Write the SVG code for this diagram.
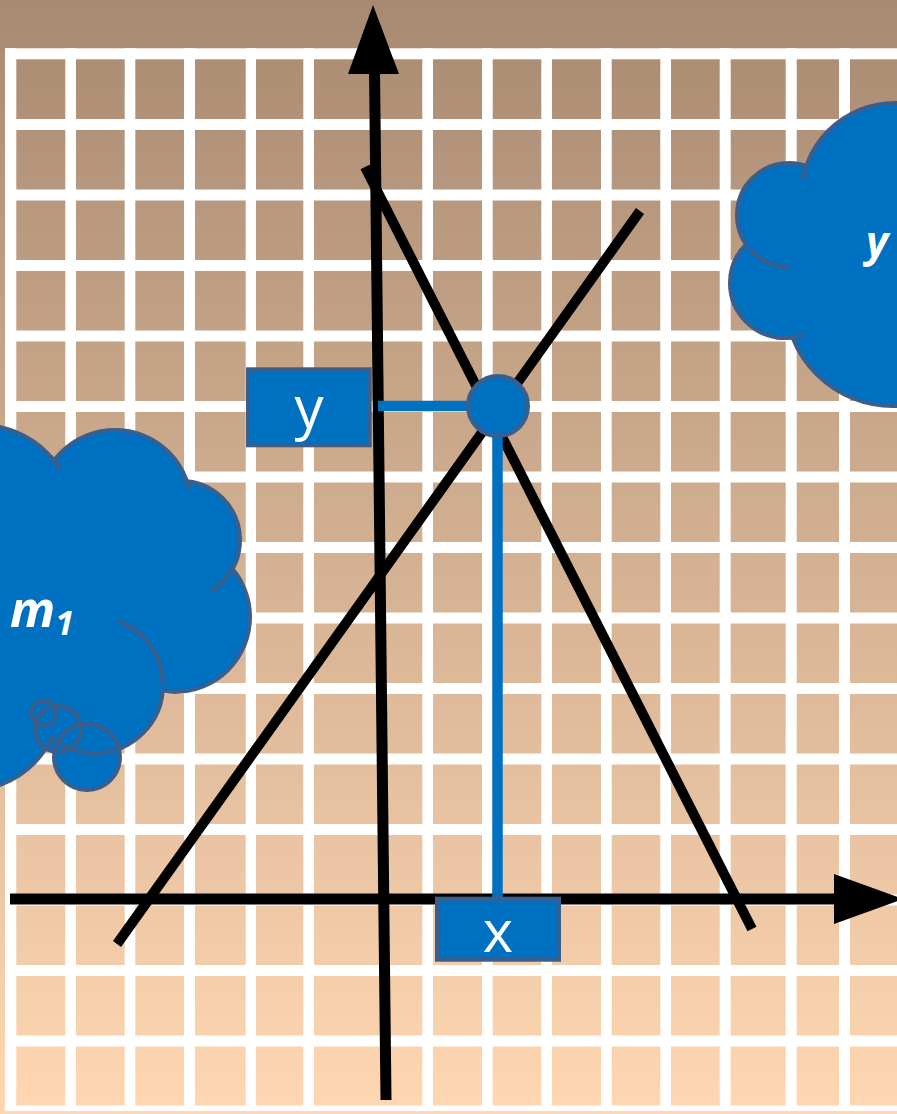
<svg xmlns="http://www.w3.org/2000/svg" width="897" height="1114" viewBox="0 0 897 1114">
<defs>
<linearGradient id="bg" gradientUnits="userSpaceOnUse" x1="0" y1="0" x2="0" y2="1114">
<stop offset="0" stop-color="#a88a72"/>
<stop offset="1" stop-color="#ffd7b2"/>
</linearGradient>
</defs>
<style>
.g{fill:#ffffff}
.cs{fill:#0070c0;stroke:#3b5e8c;stroke-width:4}
.cf{fill:#0070c0}
.st{fill:none;stroke:#3b5e8c;stroke-width:4}
.ax{stroke:#000;stroke-width:11;fill:none}
.ln{stroke:#000;stroke-width:10;fill:none}
.bl{stroke:#0070c0;stroke-width:10.5;fill:none}
.box{fill:#0070c0;stroke:#3b5e8c;stroke-width:4}
.lbl{font-family:"Open Sans","DejaVu Sans",sans-serif;font-size:58px;fill:#fff;text-anchor:middle}
.cl{font-family:"Open Sans","DejaVu Sans",sans-serif;font-weight:bold;font-style:italic;fill:#fff}
</style>
<rect x="0" y="0" width="897" height="1114" fill="url(#bg)"/>
<g id="grid">
<rect class="g" x="5" y="48.3" width="11.3" height="1062.7"/>
<rect class="g" x="65.3" y="48.3" width="10.7" height="1062.7"/>
<rect class="g" x="124.7" y="48.3" width="10.6" height="1062.7"/>
<rect class="g" x="184" y="48.3" width="11" height="1062.7"/>
<rect class="g" x="245.7" y="48.3" width="10.3" height="1062.7"/>
<rect class="g" x="303.3" y="48.3" width="10.7" height="1062.7"/>
<rect class="g" x="422.3" y="48.3" width="10.7" height="1062.7"/>
<rect class="g" x="482" y="48.3" width="10.7" height="1062.7"/>
<rect class="g" x="541.3" y="48.3" width="10.7" height="1062.7"/>
<rect class="g" x="601" y="48.3" width="10.7" height="1062.7"/>
<rect class="g" x="660.3" y="48.3" width="10.7" height="1062.7"/>
<rect class="g" x="719.7" y="48.3" width="11" height="1062.7"/>
<rect class="g" x="785.7" y="48.3" width="11" height="1062.7"/>
<rect class="g" x="839" y="48.3" width="11" height="1062.7"/>
<rect class="g" x="5" y="48.3" width="892" height="11"/>
<rect class="g" x="5" y="119" width="892" height="11"/>
<rect class="g" x="5" y="189.5" width="892" height="11"/>
<rect class="g" x="5" y="260" width="892" height="11"/>
<rect class="g" x="5" y="330.5" width="892" height="11"/>
<rect class="g" x="5" y="401" width="892" height="11"/>
<rect class="g" x="5" y="471.5" width="892" height="11"/>
<rect class="g" x="5" y="542" width="892" height="11"/>
<rect class="g" x="5" y="612.5" width="892" height="11"/>
<rect class="g" x="5" y="683" width="892" height="11"/>
<rect class="g" x="5" y="753.5" width="892" height="11"/>
<rect class="g" x="5" y="824" width="892" height="11"/>
<rect class="g" x="5" y="894.5" width="892" height="11"/>
<rect class="g" x="5" y="965" width="892" height="11"/>
<rect class="g" x="5" y="1035.5" width="892" height="11"/>
<rect class="g" x="5" y="1105.5" width="892" height="5.5"/>
</g>
<g id="cloud-left">
<circle class="cf" cx="87" cy="757" r="33"/>
<circle class="cf" cx="58" cy="729" r="23"/>
<circle class="cs" cx="-20" cy="520" r="95"/>
<circle class="cs" cx="115" cy="506" r="76"/>
<circle class="cs" cx="181" cy="540" r="59"/>
<circle class="cs" cx="175" cy="617" r="75"/>
<circle class="cs" cx="95" cy="685" r="68"/>
<circle class="cs" cx="-30" cy="700" r="90"/>
<circle class="cf" cx="-20" cy="520" r="93"/>
<circle class="cf" cx="115" cy="506" r="74"/>
<circle class="cf" cx="181" cy="540" r="57"/>
<circle class="cf" cx="175" cy="617" r="73"/>
<circle class="cf" cx="95" cy="685" r="66"/>
<circle class="cf" cx="-30" cy="700" r="88"/>
<circle class="cf" cx="90" cy="600" r="100"/>
<path class="st" d="M 233.1 567.7 A 59 59 0 0 1 210.5 591.1"/>
<path class="st" d="M 118.3 621.1 A 68 68 0 0 1 163 685"/>
<path class="st" d="M 50.6 456.4 A 95 95 0 0 1 59.7 468.3"/>
<path class="st" d="M 187 481.3 A 76 76 0 0 1 189.3 490.2"/>
<circle class="st" cx="44" cy="713" r="12.5"/>
<circle class="st" cx="58" cy="729" r="23"/>
<circle class="st" cx="87" cy="757" r="33"/>
<text class="cl" x="10" y="627" font-size="50">m<tspan font-size="34" dy="8">1</tspan></text>
</g>
<g id="cloud-right">
<circle class="cs" cx="895" cy="197" r="94"/>
<circle class="cs" cx="789" cy="215" r="52"/>
<circle class="cs" cx="785" cy="283" r="55"/>
<circle class="cs" cx="893" cy="298" r="108"/>
<circle class="cf" cx="895" cy="197" r="92"/>
<circle class="cf" cx="789" cy="215" r="50"/>
<circle class="cf" cx="785" cy="283" r="53"/>
<circle class="cf" cx="893" cy="298" r="106"/>
<circle class="cf" cx="880" cy="260" r="100"/>
<path class="st" d="M 806.1 166.4 A 94 94 0 0 0 802.7 179.1"/>
<path class="st" d="M 749.2 248.4 A 52 52 0 0 0 789 267"/>
<path class="st" d="M 775.4 337.2 A 55 55 0 0 0 803.8 334.7"/>
<text class="cl" x="866" y="257" font-size="43">y</text>
</g>
<g id="connectors">
<line class="ax" x1="374.5" y1="70" x2="386" y2="1100"/>
<polygon points="373,5 348,74 399,74" fill="#000"/>
<line class="ax" x1="10" y1="899" x2="836" y2="899"/>
<polygon points="834,874 903,899 834,924" fill="#000"/>
<line class="ln" x1="117" y1="944" x2="640" y2="211"/>
<line class="ln" x1="365" y1="167" x2="752" y2="929"/>
<line class="bl" x1="378" y1="406" x2="470" y2="406"/>
<line class="bl" x1="497.5" y1="430" x2="497.5" y2="898"/>
</g>
<g id="point">
<circle cx="498" cy="406" r="30" fill="#0070c0" stroke="#3b5e8c" stroke-width="4"/>
</g>
<g id="label-y">
<rect class="box" x="248" y="369.3" width="121.7" height="76"/>
<text class="lbl" x="309" y="427.5">y</text>
</g>
<g id="label-x">
<rect class="box" x="437" y="898.7" width="122" height="61"/>
<text class="lbl" x="498" y="951.7">x</text>
</g>
</svg>
